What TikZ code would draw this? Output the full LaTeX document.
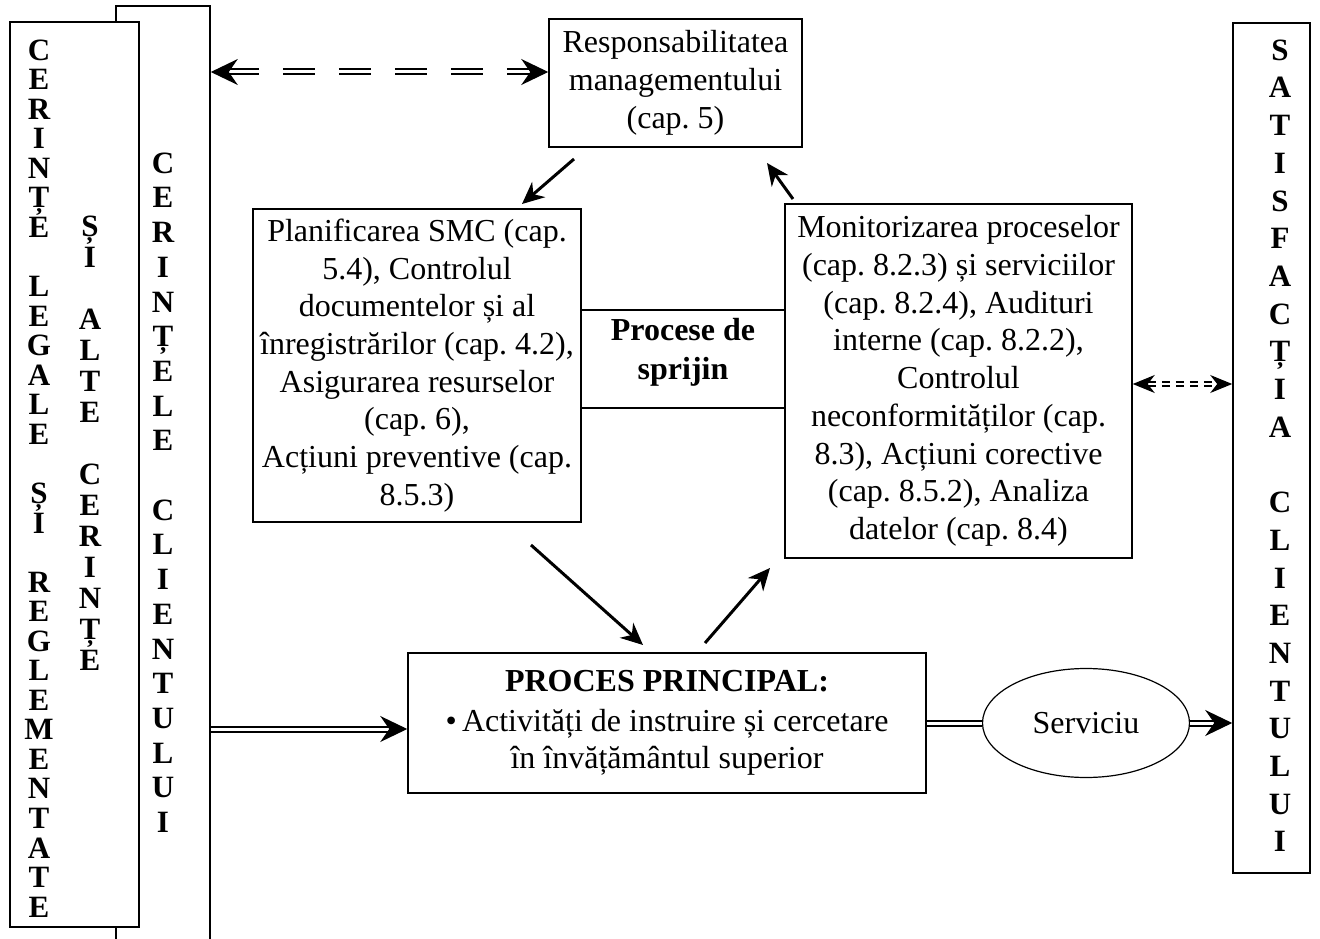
\documentclass[tikz,border=0pt]{standalone}
\usepackage{fontspec}
\setmainfont{Liberation Serif}
\usetikzlibrary{arrows.meta,shapes.geometric,calc}
\begin{document}
\frenchspacing
\begin{tikzpicture}[x=1pt,y=-1pt,
  box/.style={draw, line width=1.5pt, inner sep=0pt, align=center, font=\fontsize{32}{37.7}\selectfont},
  colbox/.style={draw, line width=1.6pt, fill=white, inner sep=0pt},
  letters/.style={inner sep=0pt, anchor=north, align=center, font=\bfseries\fontsize{31}{#1}\selectfont},
  shaft/.style={double, double distance=3pt, line width=2pt},
  bigtip/.style={line width=1.2pt, -{Stealth[length=27pt,width=26pt,inset=9pt]}},
  smalltip/.style={line width=1.2pt, -{Stealth[length=22pt,width=18pt,inset=7pt]}},
  flow/.style={line width=3pt, -{Stealth[length=22pt,width=20pt,inset=7pt]}}
]
\useasboundingbox (0,0) rectangle (1320,939);
\begin{scope}
\clip (0,0) rectangle (1320,939);
\node[colbox, minimum width=94pt, minimum height=960pt] (creq) at (163,486) {};
\end{scope}
\node[colbox, minimum width=129pt, minimum height=905pt] (lreq) at (74.5,474.5) {};
\node[colbox, minimum width=77pt, minimum height=850pt] (sat) at (1271.5,448) {};

% vertical texts
\node[letters=29.55] (t1) at (39,39.5) {C\\E\\R\\I\\N\\Ț\\E\\[29.55pt]L\\E\\G\\A\\L\\E\\[29.55pt]Ș\\I\\[29.55pt]R\\E\\G\\L\\E\\M\\E\\N\\T\\A\\T\\E};
\node[letters=31] (t2) at (90,215.5) {Ș\\I\\[31pt]A\\L\\T\\E\\[31pt]C\\E\\R\\I\\N\\Ț\\E};
\node[letters=34.7] (t3) at (163,152.5) {C\\E\\R\\I\\N\\Ț\\E\\L\\E\\[34.7pt]C\\L\\I\\E\\N\\T\\U\\L\\U\\I};
\node[letters=37.7] (t4) at (1280,39.5) {S\\A\\T\\I\\S\\F\\A\\C\\Ț\\I\\A\\[37.7pt]C\\L\\I\\E\\N\\T\\U\\L\\U\\I};

% main boxes
\node[box, minimum width=253pt, minimum height=128pt] (resp) at (675.5,83) {Responsabilitatea\\managementului\\(cap. 5)};
\node[box, minimum width=328pt, minimum height=313pt] (plan) at (417,365.5) {Planificarea SMC (cap.\\5.4), Controlul\\documentelor și al\\înregistrărilor (cap. 4.2),\\Asigurarea resurselor\\(cap. 6),\\Acțiuni preventive (cap.\\8.5.3)};
\node[box, minimum width=347pt, minimum height=354pt] (mon) at (958.5,381) {Monitorizarea proceselor\\(cap. 8.2.3) și serviciilor\\(cap. 8.2.4), Audituri\\interne (cap. 8.2.2),\\Controlul\\neconformităților (cap.\\8.3), Acțiuni corective\\(cap. 8.5.2), Analiza\\datelor (cap. 8.4)};
\node[inner sep=0pt, align=center, font=\bfseries\fontsize{32}{39}\selectfont] (sprijin) at (683,352) {Procese de\\sprijin};
\node[box, minimum width=518pt, minimum height=140pt] (proces) at (667,723) {\textbf{PROCES PRINCIPAL:}\\[2pt]•\,Activități de instruire și cercetare\\în învățământul superior};
\node[ellipse, draw, line width=1.2pt, minimum width=207pt, minimum height=109pt, inner sep=0pt, font=\fontsize{32}{37.7}\selectfont] (serv) at (1086,723) {Serviciu};

% support lines
\coordinate (l1) at (0,310);
\coordinate (l2) at (0,408);
\draw[line width=1.5pt] (plan.east |- l1) -- (mon.west |- l1);
\draw[line width=1.5pt] (plan.east |- l2) -- (mon.west |- l2);

% top dashed double arrow
\coordinate (ty) at (0,72);
\draw[shaft, dash pattern=on 32pt off 24pt, shorten <=16pt, shorten >=16pt] (creq.east |- ty) -- (resp.west |- ty);
\draw[bigtip] ($(creq.east |- ty)+(6,0)$) -- (creq.east |- ty);
\draw[bigtip] ($(resp.west |- ty)+(-6,0)$) -- (resp.west |- ty);

% small dotted double arrow
\coordinate (dy) at (0,384);
\draw[double, double distance=2.5pt, line width=2pt, dash pattern=on 8pt off 6pt, shorten <=15pt, shorten >=15pt] (mon.east |- dy) -- (sat.west |- dy);
\draw[smalltip] ($(mon.east |- dy)+(6,0)$) -- (mon.east |- dy);
\draw[smalltip] ($(sat.west |- dy)+(-6,0)$) -- (sat.west |- dy);

% main flow double arrows
\coordinate (my) at (0,729);
\draw[shaft, shorten >=14pt] (creq.east |- my) -- (proces.west |- my);
\draw[bigtip] ($(proces.west |- my)+(-6,0)$) -- (proces.west |- my);
\draw[shaft] (proces.east) -- (serv.west);
\draw[shaft, shorten >=14pt] (serv.east) -- (serv.east -| sat.west);
\draw[bigtip] ($(serv.east -| sat.west)+(-6,0)$) -- (serv.east -| sat.west);

% cycle arrows
\coordinate (a1s) at (574,159); \coordinate (a1e) at (522,204);
\coordinate (a2s) at (793,199); \coordinate (a2e) at (767,163);
\coordinate (a3s) at (531,545); \coordinate (a3e) at (643,645);
\coordinate (a4s) at (705,643); \coordinate (a4e) at (770,568);
\draw[flow] (a1s) -- (a1e);
\draw[flow] (a2s) -- (a2e);
\draw[flow] (a3s) -- (a3e);
\draw[flow] (a4s) -- (a4e);
\end{tikzpicture}
\end{document}
